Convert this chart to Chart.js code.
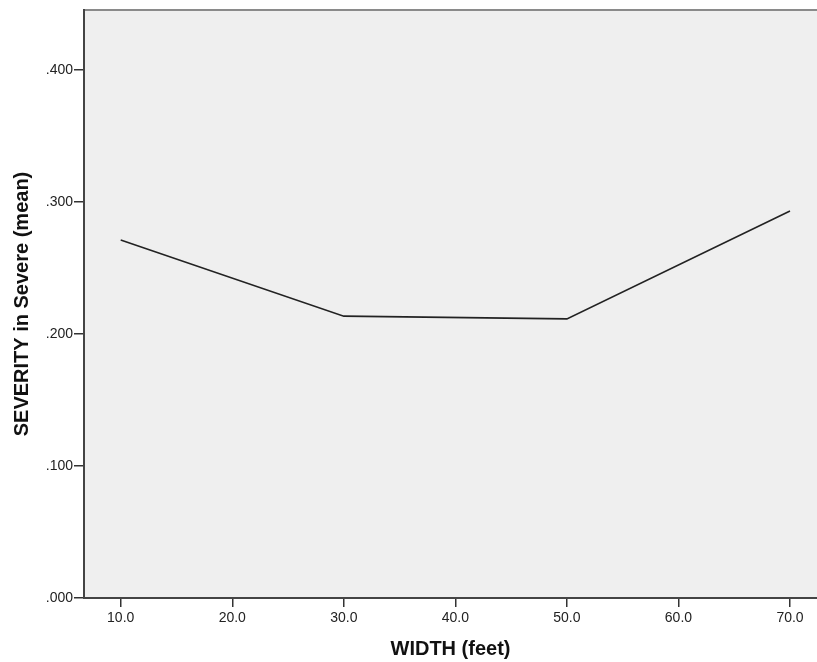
<!DOCTYPE html>
<html>
<head>
<meta charset="utf-8">
<script src="https://cdn.jsdelivr.net/npm/chart.js@4.4.1/dist/chart.umd.min.js"></script>
<style>
  html, body { margin: 0; padding: 0; background: #fff; }
  #wrap { width: 817px; height: 662px; }
</style>
</head>
<body>
<div id="wrap"><canvas id="grafico"></canvas></div>
<script>
// datos
const anchos = [10, 30, 50, 70];
const severidad = [0.2712, 0.2135, 0.2114, 0.2932];
const ticksX = [10, 20, 30, 40, 50, 60, 70];
const ticksY = [0, 0.1, 0.2, 0.3, 0.4];

// fondo gris del area de trazado y borde superior
const fondoPlugin = {
    id: 'fondo',
    beforeDraw(chart) {
        const { ctx, chartArea: a } = chart;
        ctx.save();
        ctx.fillStyle = '#efefef';
        ctx.fillRect(a.left, a.top, a.right - a.left, a.bottom - a.top);
        ctx.strokeStyle = '#8a8a8a';
        ctx.lineWidth = 2;
        ctx.beginPath();
        ctx.moveTo(a.left, a.top);
        ctx.lineTo(a.right, a.top);
        ctx.stroke();
        ctx.restore();
    }
};

const ctx = document.getElementById('grafico').getContext('2d');
new Chart(ctx, {
    type: 'line',
    data: {
        datasets: [{
            data: anchos.map((x, i) => ({ x: x, y: severidad[i] })),
            borderColor: '#222',
            borderWidth: 1.6,
            pointRadius: 0,
            tension: 0
        }]
    },
    options: {
        responsive: true,
        maintainAspectRatio: false,
        animation: false,
        layout: { padding: { top: 10, right: 0, left: 0, bottom: 0 } },
        plugins: { legend: { display: false }, tooltip: { enabled: false } },
        scales: {
            x: {
                type: 'linear',
                min: 6.71,
                max: 72.42,
                afterBuildTicks: s => { s.ticks = ticksX.map(v => ({ value: v })); },
                afterFit: s => { s.height = 64; },
                grid: { drawOnChartArea: false, drawTicks: true, tickLength: 9, color: '#333', lineWidth: 1.5 },
                border: { display: true, color: '#444', width: 2 },
                ticks: {
                    color: '#222',
                    font: { family: 'Liberation Sans', size: 14 },
                    padding: 3,
                    maxRotation: 0,
                    callback: v => v.toFixed(1)
                },
                title: {
                    display: true,
                    text: 'WIDTH (feet)',
                    color: '#111',
                    font: { family: 'Liberation Sans', size: 20, weight: 'bold' },
                    padding: { top: 4, bottom: 1 }
                }
            },
            y: {
                type: 'linear',
                min: 0,
                max: 0.4454,
                afterBuildTicks: s => { s.ticks = ticksY.map(v => ({ value: v })); },
                afterFit: s => { s.width = 84; },
                grid: { drawOnChartArea: false, drawTicks: true, tickLength: 10, color: '#333', lineWidth: 1.5 },
                border: { display: true, color: '#444', width: 2 },
                ticks: {
                    color: '#222',
                    font: { family: 'Liberation Sans', size: 14 },
                    padding: 1,
                    callback: v => v.toFixed(3).replace(/^0/, '')
                },
                title: {
                    display: true,
                    text: 'SEVERITY in Severe (mean)',
                    color: '#111',
                    font: { family: 'Liberation Sans', size: 20, weight: 'bold' },
                    padding: { top: 10, bottom: 4 }
                }
            }
        }
    },
    plugins: [fondoPlugin]
});
</script>
</body>
</html>
